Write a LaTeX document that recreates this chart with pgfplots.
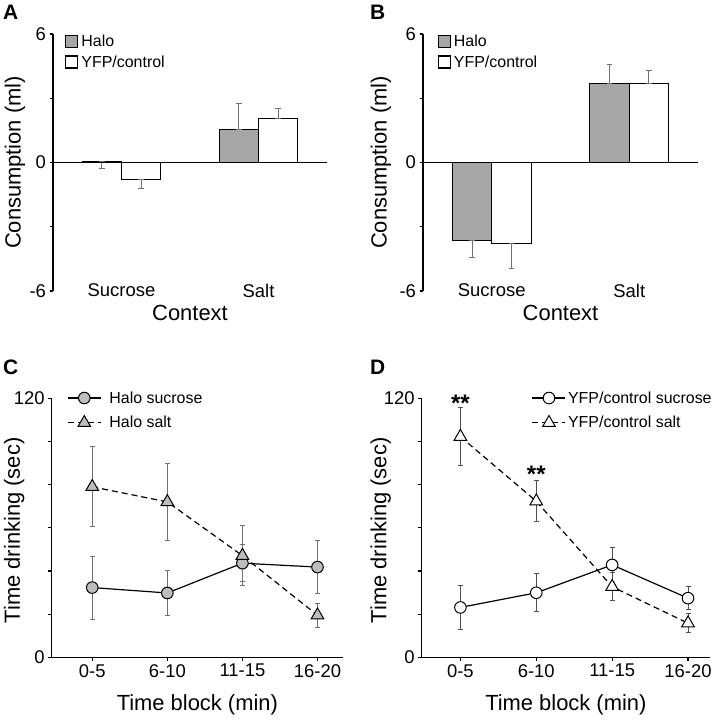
\documentclass[border=0pt]{standalone}
\usepackage{fontspec}
\setmainfont{Liberation Sans}
\usepackage{pgfplots}
\usepackage{pgfplotstable}
\pgfplotsset{compat=1.18}

\definecolor{barg}{HTML}{A6A6A6}
\definecolor{markg}{HTML}{BDBDBD}
\definecolor{errg}{HTML}{707070}
\definecolor{errd}{HTML}{505050}

% Panel A
\pgfplotstableread{
x y ep em
0 0.03 0 0.31
1 1.54 1.20 0
}\haloA
\pgfplotstableread{
x y ep em
0 -0.80 0 0.40
1 2.04 0.48 0
}\yfpA
% Panel B
\pgfplotstableread{
x y ep em
0 -3.66 0 0.78
1 3.69 0.90 0
}\haloB
\pgfplotstableread{
x y ep em
0 -3.79 0 1.18
1 3.68 0.60 0
}\yfpB
% Panel C
\pgfplotstableread{
x y e
0 32.3 14.6
1 29.8 10.3
2 43.6 8.7
3 41.8 12.4
}\haloSuc
\pgfplotstableread{
x y e
0 79.0 18.5
1 72.0 17.9
2 47.1 13.9
3 19.5 5.5
}\haloSalt
% Panel D
\pgfplotstableread{
x y e
0 23.1 10.1
1 29.9 8.7
2 42.8 8.2
3 27.4 5.2
}\yfpSuc
\pgfplotstableread{
x y e
0 102.2 13.5
1 72.3 9.4
2 32.7 6.5
3 15.8 4.5
}\yfpSalt

\pgfplotsset{
  every axis/.append style={
    scale only axis, anchor=south west,
    axis lines*=left,
    axis line style={line width=1.2bp},
    tick align=outside,
    major tick length=3.5bp, minor tick length=3.5bp,
    tick style={black, line width=1.2bp},
    /pgf/number format/assume math mode=true,
    tick label style={font=\fontsize{18.5}{22}\selectfont},
    label style={font=\fontsize{22}{26}\selectfont},
    legend style={font=\fontsize{16}{19}\selectfont, draw=none, fill=none,
      inner sep=0pt, nodes={inner sep=0pt}, anchor=north west},
    legend cell align=left,
  },
  barpanel/.style={
    ybar,
    xmin=-0.5, xmax=1.5, ymin=-6, ymax=6,
    x axis line style={draw=none},
    xtick={0,1}, xticklabels={Sucrose,Salt},
    xtick style={draw=none},
    xticklabel style={anchor=center, inner sep=0pt, yshift=4bp},
    ytick={-6,0,6}, minor ytick={-3,3},
    xlabel={Context}, ylabel={Consumption (ml)},
    xlabel style={at={(axis description cs:0.5,-0.084)}, anchor=center},
    bar width=0.287,
    legend image code/.code={\draw[##1] (0bp,-6bp) rectangle (12bp,6bp);},
    legend style={row sep=7bp, /tikz/every odd column/.append style={column sep=3bp}},
  },
  barhalo/.style={bar shift=-0.1435, fill=barg, draw=black, line width=1.2bp,
    error bars/.cd, y dir=both, y explicit,
    error bar style={errg, line width=1bp},
    error mark options={rotate=90, errg, mark size=2.7bp, line width=1bp}},
  baryfp/.style={bar shift=0.1435, fill=white, draw=black, line width=1.2bp,
    error bars/.cd, y dir=both, y explicit,
    error bar style={errg, line width=1bp},
    error mark options={rotate=90, errg, mark size=2.7bp, line width=1bp}},
  linepanel/.style={
    ymin=0, ymax=120, clip=false,
    xtick={0,1,2,3}, xticklabels={0-5,6-10,11-15,16-20},
    ytick={0,120}, minor ytick={20,40,60,80,100},
    xlabel={Time block (min)}, ylabel={Time drinking (sec)},
    xlabel style={at={(axis description cs:0.5,-0.183)}, anchor=center},
    legend image code/.code={\draw[mark repeat=2, mark phase=2, ##1] plot coordinates {(0bp,0bp) (16.5bp,0bp) (33bp,0bp)};},
    legend style={row sep=11bp},
  },
}

\begin{document}
\begin{tikzpicture}[x=1bp,y=1bp]
\path[use as bounding box] (0,0) rectangle (715,720);

% ---------------- A ----------------
\begin{axis}[barpanel, at={(53bp,429bp)}, width=274bp, height=257bp,
  ylabel style={at={(axis description cs:-0.139,0.5)}, anchor=center},
  legend style={at={(rel axis cs:0.044,0.996)}}]
\addplot[barhalo] table[x=x,y=y,y error plus=ep,y error minus=em]{\haloA};
\addplot[baryfp] table[x=x,y=y,y error plus=ep,y error minus=em]{\yfpA};
\draw[line width=1.2bp] (rel axis cs:0,0.5) -- (rel axis cs:1,0.5);
\legend{Halo, YFP/control}
\end{axis}

% ---------------- B ----------------
\begin{axis}[barpanel, at={(423bp,429bp)}, width=275bp, height=257bp,
  ylabel style={at={(axis description cs:-0.153,0.5)}, anchor=center},
  legend style={at={(rel axis cs:0.053,0.996)}}]
\addplot[barhalo] table[x=x,y=y,y error plus=ep,y error minus=em]{\haloB};
\addplot[baryfp] table[x=x,y=y,y error plus=ep,y error minus=em]{\yfpB};
\draw[line width=1.2bp] (rel axis cs:0,0.5) -- (rel axis cs:1,0.5);
\legend{Halo, YFP/control}
\end{axis}

% ---------------- C ----------------
\begin{axis}[linepanel, at={(51.7bp,62.7bp)}, width=291.3bp, height=259bp,
  xmin=-0.54, xmax=3.34,
  ylabel style={at={(axis description cs:-0.129,0.49)}, anchor=center},
  legend style={at={(rel axis cs:0.0525,1.027)}, /tikz/every odd column/.append style={column sep=8bp}}]
\addplot[black, line width=1.2bp, mark=*, mark size=5.8bp,
  mark options={fill=markg, solid, line width=1bp},
  error bars/.cd, y dir=both, y explicit,
  error bar style={errg, line width=1bp, solid},
  error mark options={rotate=90, errg, mark size=2.5bp, line width=1bp, solid}]
  table[x=x,y=y,y error=e]{\haloSuc};
\addplot[black, line width=1.2bp, dash pattern=on 6bp off 4bp, mark=triangle*, mark size=7.3bp,
  mark options={fill=markg, solid, line width=1bp},
  error bars/.cd, y dir=both, y explicit,
  error bar style={errg, line width=1bp, solid},
  error mark options={rotate=90, errg, mark size=2.5bp, line width=1bp, solid}]
  table[x=x,y=y,y error=e]{\haloSalt};
\legend{Halo sucrose, Halo salt}
\end{axis}

% ---------------- D ----------------
\begin{axis}[linepanel, at={(421.7bp,62.7bp)}, width=288.3bp, height=259bp,
  xmin=-0.51, xmax=3.29,
  ylabel style={at={(axis description cs:-0.142,0.49)}, anchor=center},
  legend style={at={(rel axis cs:0.3815,1.027)}, /tikz/every odd column/.append style={column sep=2bp}}]
\addplot[black, line width=1.2bp, mark=*, mark size=5.8bp,
  mark options={fill=white, solid, line width=1bp},
  error bars/.cd, y dir=both, y explicit,
  error bar style={errd, line width=1bp, solid},
  error mark options={rotate=90, errd, mark size=2.5bp, line width=1bp, solid}]
  table[x=x,y=y,y error=e]{\yfpSuc};
\addplot[black, line width=1.2bp, dash pattern=on 6bp off 4bp, mark=triangle*, mark size=7.3bp,
  mark options={fill=white, solid, line width=1bp},
  error bars/.cd, y dir=both, y explicit,
  error bar style={errd, line width=1bp, solid},
  error mark options={rotate=90, errd, mark size=2.5bp, line width=1bp, solid}]
  table[x=x,y=y,y error=e]{\yfpSalt};
\node[font=\fontsize{24}{24}\selectfont\bfseries, yshift=-5bp] at (axis cs:0,120.2) {**};
\node[font=\fontsize{24}{24}\selectfont\bfseries, yshift=-5bp] at (axis cs:1,87.3) {**};
\legend{YFP/control sucrose, YFP/control salt}
\end{axis}

% panel letters
\node[anchor=base west, inner sep=0pt, font=\fontsize{21}{21}\selectfont\bfseries] at (3,700) {A};
\node[anchor=base west, inner sep=0pt, font=\fontsize{21}{21}\selectfont\bfseries] at (370,700) {B};
\node[anchor=base west, inner sep=0pt, font=\fontsize{21}{21}\selectfont\bfseries] at (3,345) {C};
\node[anchor=base west, inner sep=0pt, font=\fontsize{21}{21}\selectfont\bfseries] at (370,345) {D};
\end{tikzpicture}
\end{document}
